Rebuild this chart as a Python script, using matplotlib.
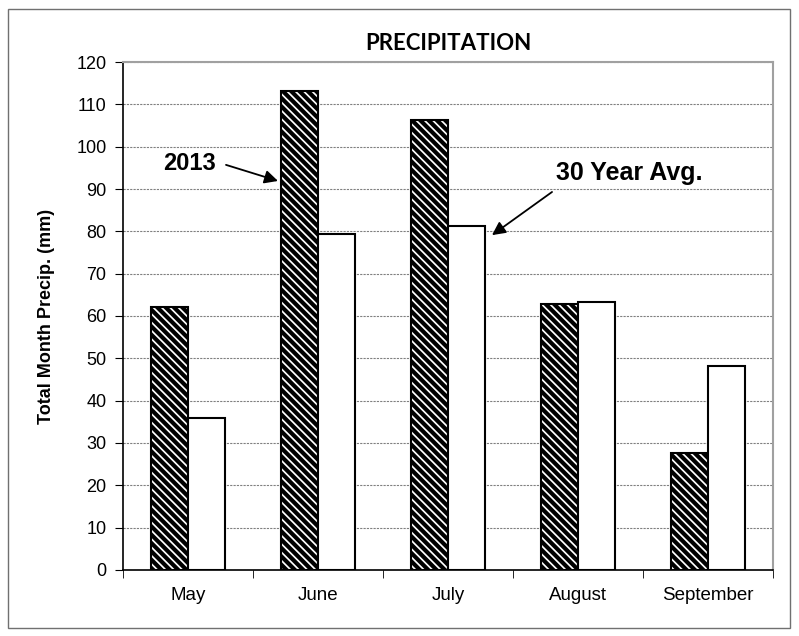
import numpy as np
import matplotlib
matplotlib.use("Agg")
import matplotlib.pyplot as plt
from matplotlib.patches import Rectangle

months = ["May", "June", "July", "August", "September"]
precip_2013 = [62.2, 113.2, 106.3, 62.8, 27.6]
precip_30yr = [36.0, 79.4, 81.3, 63.2, 48.2]
yticks = list(range(0, 121, 10))

plt.rcParams['font.family'] = ['Liberation Sans', 'DejaVu Sans']
plt.rcParams['hatch.linewidth'] = 3.0

fig = plt.figure(figsize=(7.99, 6.36), dpi=100)
ax = fig.add_axes([0.154, 0.1038, 0.8135, 0.7987])

x = np.arange(len(months))
w = 0.285
ax.bar(x - w/2, precip_2013, w, facecolor='white', edgecolor='black',
       hatch='\\\\\\\\', linewidth=1.5, zorder=3)
ax.bar(x + w/2, precip_30yr, w, facecolor='white', edgecolor='black',
       linewidth=1.5, zorder=3)

ax.set_xlim(-0.5, len(months) - 0.5)
ax.set_ylim(0, 120)
ax.set_yticks(yticks)
ax.tick_params(axis='y', labelsize=13, length=6, direction='out', pad=6)
ax.set_xticks(x)
ax.set_xticklabels(months, fontsize=13.5)
ax.tick_params(axis='x', length=0, pad=12)
ax.set_xticks(np.arange(len(months) + 1) - 0.5, minor=True)
ax.tick_params(axis='x', which='minor', length=6, direction='out')

ax.yaxis.grid(True, linestyle=(0, (2, 1)), color='#808080', linewidth=0.8, zorder=0)
ax.set_axisbelow(True)
for s in ['left', 'bottom']:
    ax.spines[s].set_color('black')
    ax.spines[s].set_linewidth(1.2)
for s in ['top', 'right']:
    ax.spines[s].set_color('#a0a0a0')
    ax.spines[s].set_linewidth(1.5)

ax.set_title("PRECIPITATION", fontsize=16, fontweight='bold', pad=9,
             family=['Lato', 'DejaVu Sans'])
ax.set_ylabel("Total Month Precip. (mm)", fontsize=13, fontweight='bold', labelpad=15)

arrow = dict(arrowstyle='-|>', color='black', lw=1.3, mutation_scale=20,
             shrinkA=0, shrinkB=0)
ax.text(-0.19, 96.1, "2013", fontsize=17, fontweight='bold', ha='left', va='center')
ax.annotate("", xy=(0.692, 91.9), xytext=(0.292, 95.7), arrowprops=arrow)
ax.text(2.83, 93.8, "30 Year Avg.", fontsize=18, fontweight='bold', ha='left', va='center')
ax.annotate("", xy=(2.338, 79.1), xytext=(2.80, 89.3), arrowprops=arrow)

fig.patches.append(Rectangle((8/799, 8/636), 782/799, 619/636, transform=fig.transFigure,
                             fill=False, edgecolor='#707070', linewidth=1))

fig.savefig("out.png", dpi=100)
